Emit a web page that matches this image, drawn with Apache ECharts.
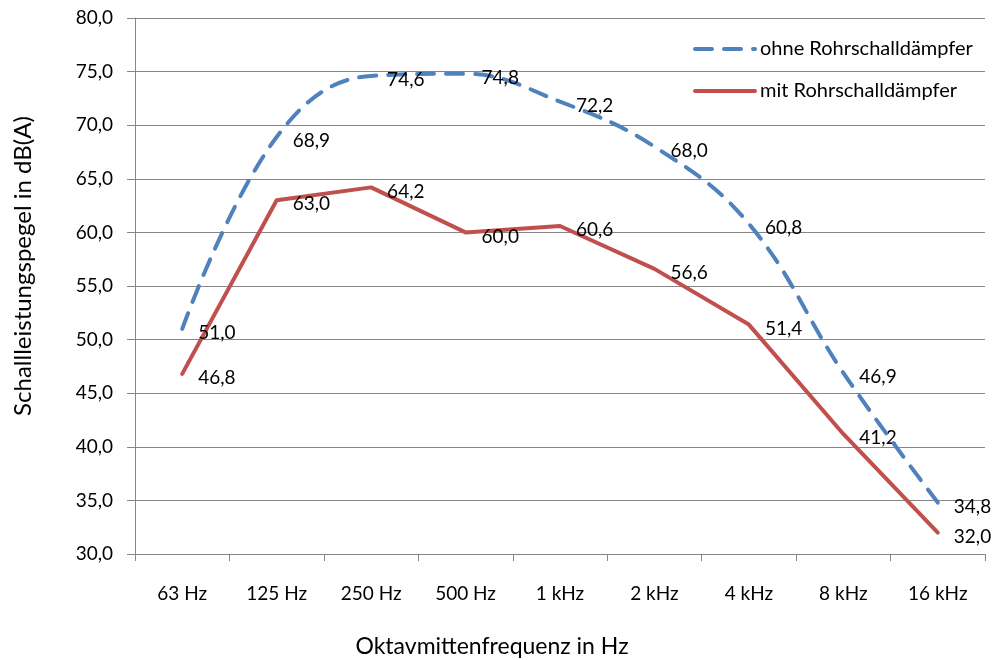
<!DOCTYPE html>
<html><head><meta charset="utf-8">
<script src="https://cdn.jsdelivr.net/npm/echarts@6/dist/echarts.min.js"></script>
<style>html,body{margin:0;padding:0;background:#fff}#c{width:1001px;height:660px}</style>
</head><body><div id="c"></div>
<script>
const categories = ['63 Hz','125 Hz','250 Hz','500 Hz','1 kHz','2 kHz','4 kHz','8 kHz','16 kHz'];
const ohne = [51.0, 68.9, 74.6, 74.8, 72.2, 68.0, 60.8, 46.9, 34.8];
const mit = [46.8, 63.0, 64.2, 60.0, 60.6, 56.6, 51.4, 41.2, 32.0];
const seriesNames = ['ohne Rohrschalldämpfer', 'mit Rohrschalldämpfer'];
const yTitle = 'Schallleistungspegel in dB(A)';
const xTitle = 'Oktavmittenfrequenz in Hz';

const FONT = 'Lato, "Open Sans", sans-serif';
const fmt = v => v.toFixed(1).replace('.', ',');
const chart = echarts.init(document.getElementById('c'), null, {renderer: 'canvas'});
const labelCfg = {
  show: true, position: 'right', distance: 16, offset: [0, 4],
  color: '#000', fontSize: 19, fontFamily: FONT,
  formatter: p => fmt(p.value)
};
chart.setOption({
  animation: false,
  backgroundColor: '#fff',
  grid: {left: 135, right: 16, top: 18, bottom: 106, containLabel: false, outerBoundsMode: 'none'},
  legend: {
    orient: 'vertical', left: 688, top: 34, itemGap: 22,
    itemWidth: 60, itemHeight: 14,
    itemStyle: {color: 'transparent', borderWidth: 0, opacity: 0},
    lineStyle: {width: 4},
    textStyle: {fontSize: 20, fontFamily: FONT, color: '#000'},
    data: [seriesNames[0], seriesNames[1]]
  },
  xAxis: {
    type: 'category', data: categories, boundaryGap: true,
    name: xTitle, nameLocation: 'middle', nameGap: 81,
    nameTextStyle: {fontSize: 23, fontFamily: FONT, color: '#000', padding: [0, 136, 0, 0]},
    axisLine: {lineStyle: {color: '#868686', width: 1}},
    axisTick: {show: true, length: 7, interval: 0, alignWithLabel: false, lineStyle: {color: '#868686'}},
    axisLabel: {fontSize: 19, fontFamily: FONT, color: '#000', margin: 30, interval: 0},
    splitLine: {show: false}
  },
  yAxis: {
    type: 'value', min: 30, max: 80, interval: 5,
    name: yTitle, nameLocation: 'middle', nameGap: 100, nameRotate: 90,
    nameTextStyle: {fontSize: 24, fontFamily: FONT, color: '#000', padding: [0, 0, 0, 40]},
    axisLine: {show: true, lineStyle: {color: '#868686', width: 1}},
    axisTick: {show: true, length: 8, lineStyle: {color: '#868686'}},
    axisLabel: {fontSize: 19, fontFamily: FONT, color: '#000', margin: 22, formatter: v => fmt(v)},
    splitLine: {show: true, lineStyle: {color: '#868686', width: 1}}
  },
  series: [
    {
      name: seriesNames[0], type: 'line', data: ohne, smooth: 0.4,
      symbol: 'circle', symbolSize: 0, showSymbol: true, z: 3,
      lineStyle: {color: '#4F81BD', width: 4, type: [17, 12], cap: 'round'},
      itemStyle: {color: '#4F81BD'},
      label: labelCfg
    },
    {
      name: seriesNames[1], type: 'line', data: mit, smooth: false,
      symbol: 'circle', symbolSize: 0, showSymbol: true, z: 2,
      lineStyle: {color: '#C0504D', width: 4, cap: 'round', join: 'round'},
      itemStyle: {color: '#C0504D'},
      label: labelCfg
    }
  ]
});
</script></body></html>
